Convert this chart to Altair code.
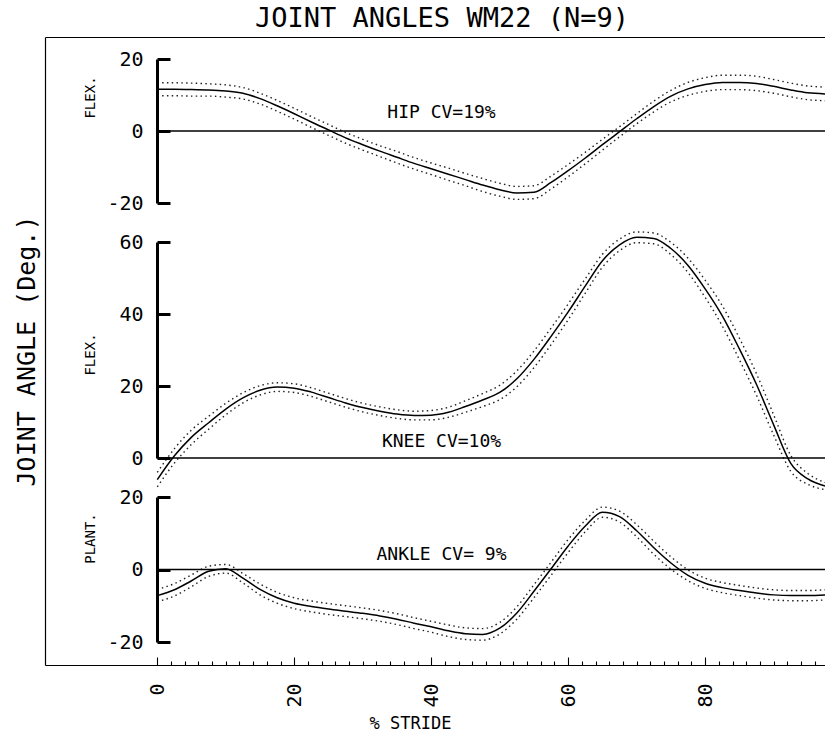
import altair as alt
import pandas as pd

# % stride sampling positions
stride = [0, 2.5, 5, 7.5, 10, 12.5, 15, 17.5, 20, 22.5,
          25, 27.5, 30, 32.5, 35, 37.5, 40, 42.5, 45, 47.5,
          50, 52.5, 55, 57.5, 60, 62.5, 65, 67.5, 70, 72.5,
          75, 77.5, 80, 82.5, 85, 87.5, 90, 92.5, 95, 97.5]

hip_mean = [11.6, 11.6, 11.5, 11.4, 11.1, 10.5, 9.0, 7.0, 4.8, 2.5,
            0.3, -1.9, -3.8, -5.6, -7.3, -9.0, -10.5, -12.0, -13.5, -15.0,
            -16.3, -17.2, -17.0, -14.3, -11.0, -7.5, -3.8, -0.2, 3.4, 6.8,
            9.7, 11.7, 12.9, 13.5, 13.5, 13.2, 12.4, 11.4, 10.6, 10.3]
hip_sd = [1.8, 1.8, 1.8, 1.7, 1.7, 1.6, 1.5, 1.5, 1.5, 1.5,
          1.5, 1.5, 1.5, 1.5, 1.6, 1.6, 1.6, 1.7, 1.7, 1.8,
          1.8, 1.8, 1.8, 1.8, 1.7, 1.6, 1.5, 1.4, 1.4, 1.5,
          1.6, 1.8, 1.9, 2.0, 2.0, 2.0, 1.9, 1.9, 1.9, 1.9]

knee_mean = [-6.0, 0.6, 5.8, 9.8, 13.6, 16.7, 18.8, 19.7, 19.4, 18.3,
             16.8, 15.3, 14.0, 13.0, 12.2, 11.8, 11.9, 12.7, 14.3, 16.1,
             18.2, 22.0, 27.4, 33.8, 40.6, 47.8, 54.8, 59.2, 61.3, 61.0,
             58.2, 53.5, 47.0, 39.5, 30.3, 20.4, 9.2, -1.5, -5.8, -7.8]
knee_sd = [2.0, 2.0, 2.0, 1.8, 1.6, 1.4, 1.3, 1.2, 1.2, 1.2,
           1.2, 1.2, 1.2, 1.2, 1.2, 1.2, 1.3, 1.4, 1.6, 1.8,
           2.0, 2.2, 2.3, 2.3, 2.2, 2.0, 1.8, 1.6, 1.5, 1.5,
           1.7, 2.0, 2.4, 2.8, 3.0, 3.0, 2.8, 2.2, 1.5, 1.0]

ankle_mean = [-7.2, -5.6, -3.1, -0.5, 0.2, -2.4, -5.5, -7.8, -9.3, -10.2,
              -10.9, -11.5, -12.1, -12.8, -13.7, -14.8, -15.8, -16.9, -17.7, -17.9,
              -16.2, -12.0, -6.0, 0.2, 6.5, 12.0, 15.8, 14.6, 10.7, 6.0,
              1.8, -1.6, -3.8, -5.0, -5.8, -6.5, -7.0, -7.2, -7.2, -7.0]
ankle_sd = [1.7, 1.7, 1.6, 1.4, 1.2, 1.3, 1.5, 1.5, 1.5, 1.5,
            1.5, 1.5, 1.5, 1.5, 1.5, 1.5, 1.5, 1.6, 1.6, 1.6,
            1.6, 1.7, 1.8, 1.8, 1.8, 1.6, 1.4, 1.5, 1.7, 1.8,
            1.7, 1.5, 1.4, 1.4, 1.4, 1.4, 1.4, 1.4, 1.4, 1.4]

x_ticks_major = [0, 20, 40, 60, 80]
x_ticks_all = [0, 2, 4, 6, 8, 10, 12, 14, 16, 18, 20, 22, 24, 26, 28, 30, 32, 34, 36, 38,
               40, 42, 44, 46, 48, 50, 52, 54, 56, 58, 60, 62, 64, 66, 68, 70, 72, 74, 76, 78,
               80, 82, 84, 86, 88, 90, 92, 94, 96]

FONT = "DejaVu Sans Mono"
X_DOMAIN = [-16.4, 97.5]
STRIDE_END = 97.5
DOT = [1.5, 3.3]
INK = "#000000"


def frame(mean, sd):
    return pd.DataFrame({
        "x": stride,
        "mean": mean,
        "upper": [m + s for m, s in zip(mean, sd)],
        "lower": [m - s for m, s in zip(mean, sd)],
    })


def xenc(axis, field="x"):
    return alt.X(f"{field}:Q", scale=alt.Scale(domain=X_DOMAIN, nice=False, zero=False), axis=axis)


def panel(df, domain, rng, values, side_title, title_y, cv_text, cv_y, xaxis):
    yscale = alt.Scale(domain=domain, range=rng, nice=False, zero=False)
    yaxis = alt.Axis(
        orient="right", offset=-668, values=values, labelExpr="'' + datum.value",
        domain=True, ticks=True, labels=True,
        tickSize=13, labelAlign="right", labelBaseline="middle", labelPadding=-27,
        labelFont=FONT, labelFontSize=20, labelColor=INK,
        domainColor=INK, tickColor=INK, domainWidth=3, tickWidth=3,
        zindex=1,
        grid=False, labelOverlap=False, labelFlush=False,
        title=side_title, titleX=-67, titleY=title_y, titleAngle=270,
        titleAlign="center", titleBaseline="middle", titleFont=FONT,
        titleFontSize=14, titleFontWeight="normal", titleColor=INK,
    )

    def y(field):
        return alt.Y(f"{field}:Q", scale=yscale, axis=yaxis)

    base = alt.Chart(df)
    lower = base.mark_line(color="#222222", strokeWidth=1.4, strokeDash=DOT,
                           interpolate="monotone").encode(x=xenc(xaxis), y=y("lower"))
    upper = base.mark_line(color="#222222", strokeWidth=1.4, strokeDash=DOT,
                           interpolate="monotone").encode(x=xenc(xaxis), y=y("upper"))
    mean = base.mark_line(color=INK, strokeWidth=1.5,
                          interpolate="monotone").encode(x=xenc(xaxis), y=y("mean"))

    zero_df = pd.DataFrame({"x": [0], "x_end": [STRIDE_END], "v": [0]})
    zero = alt.Chart(zero_df).mark_rule(color=INK, strokeWidth=1.3).encode(
        x=xenc(xaxis), x2="x_end:Q", y=y("v"))

    cv_df = pd.DataFrame({"x": [41.5], "v": [cv_y], "label": [cv_text]})
    cv = alt.Chart(cv_df).mark_text(font=FONT, fontSize=18, color=INK,
                                    align="center", baseline="middle").encode(
        x=xenc(xaxis), y=y("v"), text="label:N")

    return alt.layer(lower, upper, mean, zero, cv)


top_axis = alt.Axis(orient="top", offset=0, labels=False, ticks=False, domain=True,
                    domainColor=INK, domainWidth=1.2, grid=False, title=None)

tick_axis = alt.Axis(orient="top", offset=-628, values=x_ticks_all, labels=False,
                     ticks=True,
                     tickSize={"condition": {"test": "datum.value % 20 === 0", "value": 8}, "value": 4},
                     tickColor=INK, tickWidth=1.1, domain=True, domainColor=INK,
                     domainWidth=1.2, grid=False, title=None)

label_axis = alt.Axis(orient="bottom", values=x_ticks_major, labelExpr="'' + datum.value",
                      labelAngle=270, labelAlign="right", labelBaseline="middle",
                      labelPadding=18, ticks=False, domain=False, grid=False,
                      labelFont=FONT, labelFontSize=20, labelColor=INK,
                      labelOverlap=False, labelFlush=False,
                      title="% STRIDE", titleFont=FONT, titleFontSize=17,
                      titleFontWeight="normal", titleColor=INK,
                      titleX=365, titleY=58, titleAlign="center", titleBaseline="middle")

hip = panel(frame(hip_mean, hip_sd), [-20, 20], [166, 22], [-20, 0, 20],
            "FLEX.", 60, "HIP CV=19%", 5.1, top_axis)
knee = panel(frame(knee_mean, knee_sd), [0, 60], [421, 205], [0, 20, 40, 60],
             "FLEX.", 317, "KNEE CV=10%", 4.4, tick_axis)
ankle = panel(frame(ankle_mean, ankle_sd), [-20, 20], [605, 460], [-20, 0, 20],
              "PLANT.", 501, "ANKLE CV= 9%", 4.0, label_axis)

ytitle_df = pd.DataFrame({"x": [-19.1], "pos": [0.5], "label": ["JOINT ANGLE (Deg.)"]})
ytitle = alt.Chart(ytitle_df).mark_text(angle=270, font=FONT, fontSize=25, color=INK,
                                        align="center", baseline="middle").encode(
    x=xenc(None),
    y=alt.Y("pos:Q", scale=alt.Scale(domain=[0, 1], nice=False, zero=False),
            axis=alt.Axis(orient="left", offset=0, domain=True, ticks=False, labels=False,
                          grid=False, title=None, domainColor=INK, domainWidth=1.2)),
    text="label:N",
)

chart = alt.layer(hip, knee, ankle, ytitle).resolve_scale(
    y="independent"
).resolve_axis(
    x="independent", y="independent"
).properties(
    width=780,
    height=628,
    autosize=alt.AutoSizeParams(type="none"),
    padding={"left": 45, "top": 37, "right": 0, "bottom": 70},
    title=alt.Title("JOINT ANGLES WM22 (N=9)", font=FONT, fontSize=27, fontWeight="normal",
                    color=INK, anchor="middle", frame="group", offset=4, dx=7),
    background="white",
).configure_view(strokeWidth=0)

chart.save("out.html", embed_options={"renderer": "svg", "actions": False})
